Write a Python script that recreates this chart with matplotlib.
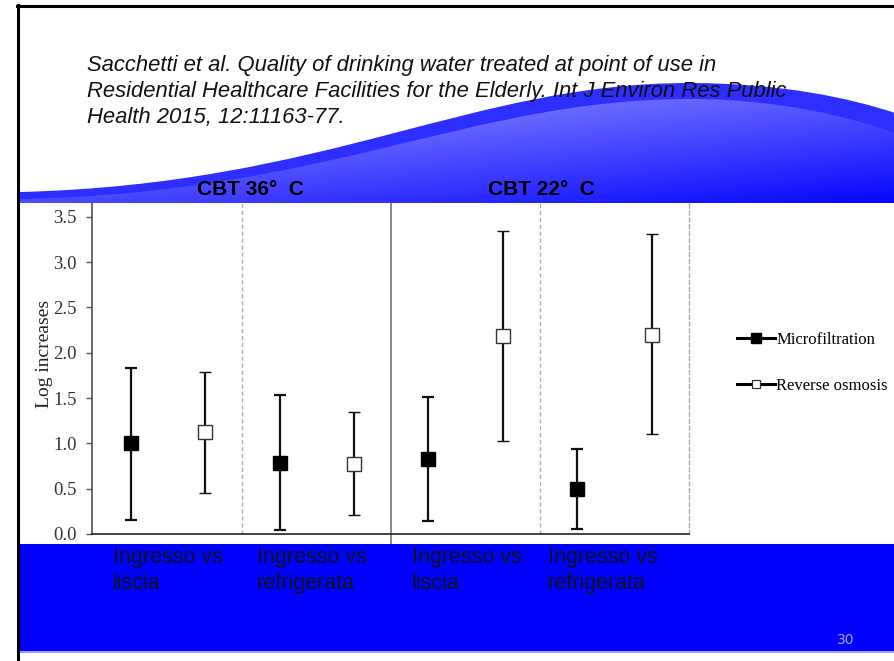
import numpy as np
import matplotlib.pyplot as plt
from matplotlib.path import Path
from matplotlib.patches import PathPatch, Rectangle
from matplotlib.lines import Line2D

# valori (log increases)
group_labels = ["Ingresso vs\nliscia", "Ingresso vs\nrefrigerata",
                "Ingresso vs\nliscia", "Ingresso vs\nrefrigerata"]
temp_labels = ["CBT 36\u00b0  C", "CBT 22\u00b0  C"]
series_names = ["Microfiltration", "Reverse osmosis"]

mf_mean = [1.00, 0.78, 0.83, 0.50]
mf_low = [0.16, 0.04, 0.14, 0.05]
mf_high = [1.83, 1.53, 1.51, 0.94]

ro_mean = [1.13, 0.77, 2.18, 2.20]
ro_low = [0.45, 0.21, 1.03, 1.10]
ro_high = [1.79, 1.35, 3.34, 3.31]

yticks = [0.0, 0.5, 1.0, 1.5, 2.0, 2.5, 3.0, 3.5]

citation = ["Sacchetti et al. Quality of drinking water treated at point of use in",
            "Residential Healthcare Facilities for the Elderly. Int J Environ Res Public",
            "Health 2015, 12:11163-77."]

W, H = 895, 661
fig = plt.figure(figsize=(W / 100, H / 100), dpi=100)
fig.patch.set_facecolor('white')


def px(x0, y0, x1, y1):
    # rettangolo in pixel (origine in alto a sinistra) -> coordinate figura
    return [x0 / W, 1 - y1 / H, (x1 - x0) / W, (y1 - y0) / H]


# ---- grafico ----
ax = fig.add_axes(px(92, 203, 689, 534), zorder=2)
n = len(group_labels)
x_mf = np.arange(n) * 2
x_ro = np.arange(n) * 2 + 1

mf_mean = np.array(mf_mean)
ro_mean = np.array(ro_mean)
mf_err = [mf_mean - np.array(mf_low), np.array(mf_high) - mf_mean]
ro_err = [ro_mean - np.array(ro_low), np.array(ro_high) - ro_mean]

ax.errorbar(x_mf, mf_mean, yerr=mf_err, fmt='s', color='black', ecolor='#111111',
            elinewidth=1.6, capsize=4, capthick=1.6, markersize=10.5,
            markerfacecolor='black', markeredgecolor='black', zorder=4)
ax.errorbar(x_ro, ro_mean, yerr=ro_err, fmt='s', color='#222222', ecolor='#111111',
            elinewidth=1.6, capsize=4, capthick=1.6, markersize=9.5,
            markerfacecolor='white', markeredgecolor='#333333', markeredgewidth=1.0,
            zorder=4)

ax.set_xlim(-0.52, 2 * n - 0.5)
ax.set_ylim(0, 3.653)

# separatori tra gruppi
for k in range(1, n):
    xs = 2 * k - 0.5
    if k == n // 2:
        ax.plot([xs, xs], [-0.115, 3.653], color='#888888', lw=1.4,
                clip_on=False, zorder=1)
    else:
        ax.axvline(xs, color='#b0b0b0', lw=1.0, ls=(0, (3, 2)), zorder=1)

ax.spines['top'].set_visible(False)
ax.spines['right'].set_color('#b0b0b0')
ax.spines['right'].set_linestyle((0, (3, 2)))
ax.spines['right'].set_linewidth(1.0)
ax.spines['left'].set_color('#505050')
ax.spines['left'].set_linewidth(1.2)
ax.spines['bottom'].set_color('#222222')
ax.spines['bottom'].set_linewidth(1.2)

ax.set_xticks([])
ax.set_yticks(yticks)
ax.set_yticklabels([f"{v:.1f}" for v in yticks], family='Liberation Serif',
                   fontsize=13.5, color='#333333')
ax.tick_params(axis='y', direction='out', length=4, width=1, color='#555555', pad=7)
ax.set_ylabel("Log increases", family='Liberation Serif', fontsize=14, color='#222222')
ax.yaxis.set_label_coords(-0.066, 0.545)

handles = [
    Line2D([], [], color='black', lw=2.2, marker='s', markersize=6.5,
           markerfacecolor='black', markeredgecolor='black'),
    Line2D([], [], color='black', lw=2.2, marker='s', markersize=6,
           markerfacecolor='white', markeredgecolor='#333333', markeredgewidth=0.9),
]
fig.legend(handles, series_names, loc='center left',
           bbox_to_anchor=(737 / W, 1 - 363 / H), frameon=False,
           prop={'family': 'Liberation Serif', 'size': 12},
           handlelength=2.3, handletextpad=0.05, labelspacing=1.8,
           borderpad=0, borderaxespad=0)

# ---- decorazioni della diapositiva ----
ov = fig.add_axes([0, 0, 1, 1], zorder=3)
ov.set_xlim(0, W)
ov.set_ylim(H, 0)
ov.axis('off')
ov.patch.set_alpha(0)

outer = Path([(20, 192), (330, 184), (470, 83), (690, 83),
              (780, 83), (850, 98), (895, 113),
              (895, 203), (20, 203), (20, 192)],
             [Path.MOVETO, Path.CURVE4, Path.CURVE4, Path.CURVE4,
              Path.CURVE4, Path.CURVE4, Path.CURVE4,
              Path.LINETO, Path.LINETO, Path.CLOSEPOLY])
ov.add_patch(PathPatch(outer, facecolor='#2e2eff', edgecolor='none', zorder=1))

inner = Path([(20, 199), (330, 193), (470, 99), (690, 99),
              (780, 99), (850, 117), (895, 133),
              (895, 203), (20, 203), (20, 199)],
             [Path.MOVETO, Path.CURVE4, Path.CURVE4, Path.CURVE4,
              Path.CURVE4, Path.CURVE4, Path.CURVE4,
              Path.LINETO, Path.LINETO, Path.CLOSEPOLY])
inner_patch = PathPatch(inner, facecolor='none', edgecolor='none', zorder=2)
ov.add_patch(inner_patch)

gx, gy = np.meshgrid(np.linspace(20, 895, 300), np.linspace(80, 203, 120))
light = np.clip(0.92 - 3.1e-4 * gx - 3.06e-3 * gy, 0.02, 0.42)
grad = np.dstack([light, light, np.ones_like(light)])
im = ov.imshow(grad, extent=(20, 895, 203, 80), aspect='auto', zorder=2,
               interpolation='bilinear')
im.set_clip_path(inner_patch)

ov.add_patch(Rectangle((20, 544), 875, 107, facecolor='#0000ff', edgecolor='none', zorder=1))
ov.plot([20, 895], [652, 652], color='#a0a0ff', lw=1.5, zorder=2)

# bordi
ov.plot([18, 18], [5, 661], color='black', lw=2.2, zorder=5)
ov.plot([17, 895], [5.5, 5.5], color='black', lw=2.2, zorder=5)

# testi
for i, line in enumerate(citation):
    ov.text(87, 71 + 26 * i, line, family='Liberation Sans', style='italic',
            fontsize=15.8, color='#111111', va='baseline', ha='left', zorder=6)

for lab, xl in zip(temp_labels, [197, 488]):
    ov.text(xl, 195, lab, family='Liberation Sans', weight='bold', fontsize=15,
            color='black', va='baseline', ha='left', zorder=6)

for lab, xl in zip(group_labels, [113, 257, 412, 548]):
    top, bottom = lab.split('\n')
    ov.text(xl, 563, top, family='Liberation Sans', fontsize=15.5, color='#111111',
            va='baseline', ha='left', zorder=6)
    ov.text(xl, 589, bottom, family='Liberation Sans', fontsize=15.5, color='#111111',
            va='baseline', ha='left', zorder=6)

ov.text(846, 644, "30", family='DejaVu Sans', fontsize=10, color='#a8a8ff',
        va='baseline', ha='center', zorder=6)

fig.savefig('out.png', dpi=100)
